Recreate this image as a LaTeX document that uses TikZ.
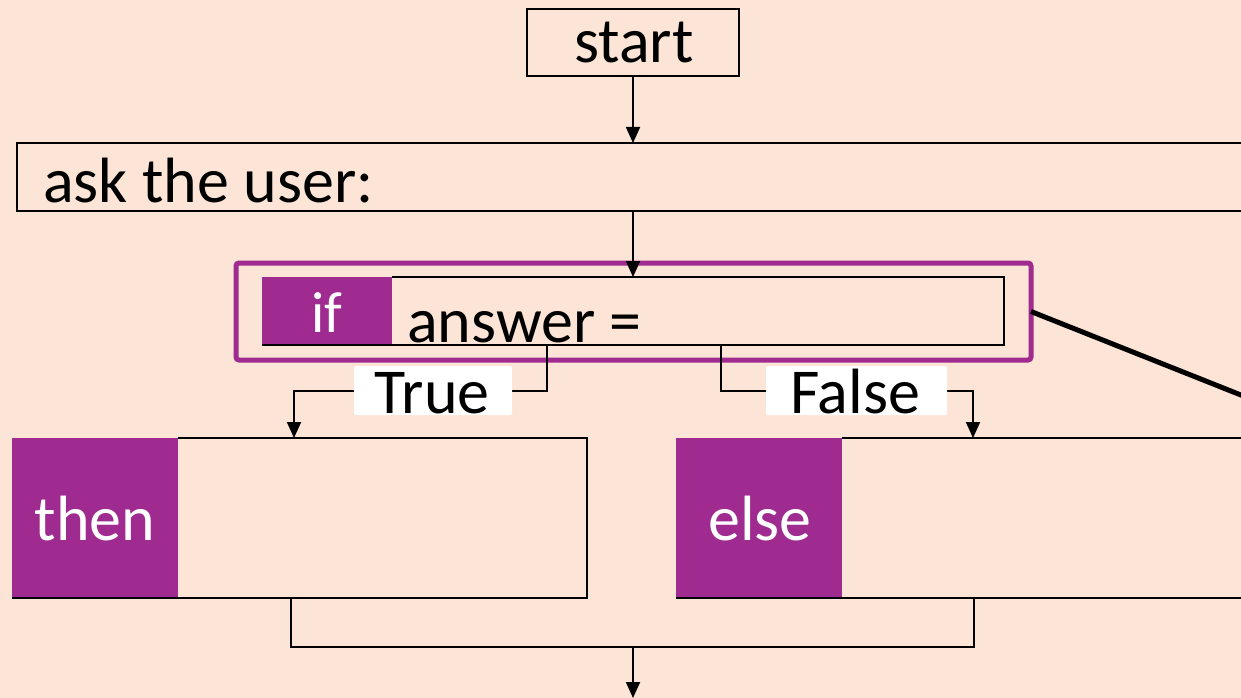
\documentclass[tikz,border=0pt]{standalone}
\usepackage{fontspec}
\setmainfont{Carlito}
\usetikzlibrary{arrows.meta}
\definecolor{bg}{RGB}{252,228,214}
\definecolor{plum}{RGB}{160,43,144}
\begin{document}
\begin{tikzpicture}[x=1pt,y=-1pt,
  box/.style={draw=black,line width=1.8pt,inner sep=0pt,outer sep=0pt},
  blank/.style={inner sep=0pt,outer sep=0pt},
  blk/.style={fill=plum,inner sep=0pt,outer sep=0pt},
  frame/.style={draw=plum,line width=5pt,rounded corners=3pt,inner sep=0pt,outer sep=0pt},
  txt/.style={inner sep=0pt,outer sep=0pt,font=\fontsize{64}{72}\selectfont},
  wtxt/.style={txt,text=white},
  lbl/.style={fill=white,rounded corners=1.5pt,inner sep=0pt,outer sep=0pt},
  conn/.style={line width=1.8pt},
  arr/.style={conn,-{Triangle[width=14pt,length=16pt]}},
  edge/.style={line width=1.8pt},
]
\fill[bg] (0,0) rectangle (1241,698);
\useasboundingbox (0,0) rectangle (1241,698);
\clip (0,0) rectangle (1241,698);

% start
\node[box,minimum width=212pt,minimum height=67pt] (start) at (633,42.5) {};
\node[txt,anchor=base] (starttxt) at (634,63) {start};

% ask
\node[box,minimum width=1245pt,minimum height=68pt] (ask) at (639.5,177) {};
\node[txt,anchor=base west] (asktxt) at (43,202) {ask the user:};

% if
\node[frame,minimum width=795pt,minimum height=97pt] (frame) at (633.5,311.5) {};
\node[blank,minimum width=742pt,minimum height=68pt] (ifbox) at (633,311) {};
\node[blk,minimum width=130pt,minimum height=67pt] (ifblk) at (327,310.5) {};
\draw[edge] (ifblk.north east) -- (ifbox.north east) -- (ifbox.south east) -- (ifbox.south west);
\node[wtxt,anchor=base,font=\fontsize{58}{66}\selectfont] (iftxt) at (327,332) {if};
\node[txt,anchor=base west] (anstxt) at (407,342) {answer =};

% then / else
\node[blank,minimum width=575pt,minimum height=160pt] (thenbox) at (299.5,518) {};
\node[blk,minimum width=166pt,minimum height=159pt] (thenblk) at (95,517.5) {};
\draw[edge] (thenblk.north east) -- (thenbox.north east) -- (thenbox.south east) -- (thenbox.south west);
\node[wtxt,anchor=base] (thentxt) at (95,540) {then};

\node[blank,minimum width=586pt,minimum height=160pt] (elsebox) at (969,518) {};
\node[blk,minimum width=166pt,minimum height=159pt] (elseblk) at (759,517.5) {};
\draw[edge] (elseblk.north east) -- (elsebox.north east) -- (elsebox.south east) -- (elsebox.south west);
\node[wtxt,anchor=base] (elsetxt) at (760,540) {else};

% connectors
\draw[arr] (start.south) -- (start.south |- ask.north);
\draw[arr] (start.south |- ask.south) -- (start.south |- ifbox.north);

\coordinate (tsrc) at (547,345);
\coordinate (tdst) at (294,438);
\draw[arr] (tsrc) -- ++(0,46) -| (tdst);
\coordinate (fsrc) at (721,345);
\coordinate (fdst) at (973,438);
\draw[arr] (fsrc) -- ++(0,46) -| (fdst);

\node[lbl,minimum width=158pt,minimum height=49pt] (truelbl) at (433,390.5) {};
\node[txt,anchor=base] (truetxt) at (432,413) {True};
\node[lbl,minimum width=181pt,minimum height=49pt] (falselbl) at (856.5,390.5) {};
\node[txt,anchor=base] (falsetxt) at (855,413) {False};

\coordinate (mthen) at (291,598);
\coordinate (melse) at (974,598);
\draw[conn] (mthen) -- ++(0,49) -| (melse);
\coordinate (mout) at (633,647);
\coordinate (mend) at (633,698);
\draw[arr] (mout) -- (mend);

% diagonal
\coordinate (dend) at (1262,403.4);
\draw[line width=5pt] (frame.east) -- (dend);
\end{tikzpicture}
\end{document}
